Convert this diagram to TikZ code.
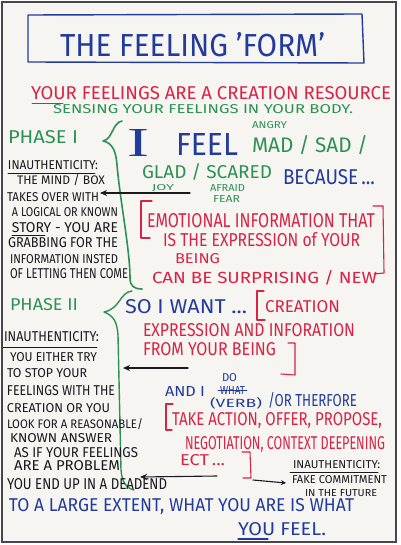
\documentclass[tikz,border=0pt]{standalone}
\usepackage{fontspec}
\setmainfont{Fira Sans}
\newfontfamily\serifI{Liberation Serif}
\usetikzlibrary{arrows.meta}
\definecolor{inkblue}{RGB}{35,60,155}
\definecolor{inkred}{RGB}{215,35,70}
\definecolor{inkgreen}{RGB}{45,145,85}
\definecolor{ink}{RGB}{25,25,30}
\definecolor{board}{RGB}{246,245,241}
\newcommand{\fitt}[3]{\resizebox{#1pt}{#2pt}{#3}}
\tikzset{
  hw/.style={inner sep=0pt, outer sep=0pt, anchor=base west},
  pen/.style={line width=1.1pt, line cap=round, line join=round},
  arr/.style={pen, ink, -{Stealth[length=7pt,width=6pt]}},
}
\begin{document}
\begin{tikzpicture}[x=1pt,y=-1pt]
\useasboundingbox (0,0) rectangle (400,545);
\fill[white] (0,0) rectangle (400,545);
\fill[board] (2,2) rectangle (396,542);
\draw[ink!80, line width=1.2pt] (2,2) rectangle (396,542);

% title
\draw[pen, inkblue, line width=1.4pt] (28,15) -- (362,14) -- (364,63) -- (28,62) -- cycle;
\node[hw, inkblue] (title) at (60,57) {\fitt{265}{24}{THE FEELING 'FORM'}};

\node[hw, inkred] (res) at (31,100) {\fitt{360}{13}{YOUR FEELINGS ARE A CREATION RESOURCE}};
\draw[pen, inkred, line width=0.9pt] (32,103) -- (63,103);
\node[hw, inkgreen] (sens) at (53,114) {\fitt{300}{9}{SENSING YOUR FEELINGS IN YOUR BODY.}};

% phase I
\node[hw, inkgreen] (p1) at (8,144) {\fitt{70}{13}{PHASE I}};
\draw[pen, inkgreen, line width=1.6pt] (122,121) .. controls (112,123) and (113,139) .. (103,141)
  .. controls (113,143) and (116,152) .. (117,165) .. controls (120,200) and (130,250) .. (130,278)
  .. controls (130,286) and (134,289) .. (142,289);

% left column I
\begin{scope}[ink]
\node[hw] (l1) at (8,170) {\fitt{90}{9}{INAUTHENTICITY:}};
\draw[pen, line width=0.8pt] (8,173) -- (95,173);
\node[hw] (l2) at (17,185) {\fitt{88}{10}{THE MIND / BOX}};
\node[hw] (l3) at (7,201) {\fitt{92}{9}{TAKES OVER WITH}};
\node[hw] (l4) at (12,216) {\fitt{106}{9}{A LOGICAL OR KNOWN}};
\node[hw] (l5) at (12,232) {\fitt{106}{10}{STORY - YOU ARE}};
\draw[pen, line width=0.8pt] (12,235) -- (45,235);
\node[hw] (l6) at (8,247) {\fitt{110}{10}{GRABBING FOR THE}};
\node[hw] (l7) at (10,263) {\fitt{108}{9}{INFORMATION INSTED}};
\node[hw] (l8) at (10,278) {\fitt{118}{10}{OF LETTING THEN COME}};
\end{scope}

% I feel
\node[hw, inkblue] (i) at (127,157) {\fitt{22}{27}{\serifI I}};
\node[hw, inkblue] (feel) at (176,156) {\fitt{62}{22}{FEEL}};
\node[hw, inkgreen] (angry) at (252,129) {\fitt{35}{7}{ANGRY}};
\node[hw, inkgreen] (mad) at (252,153) {\fitt{116}{17}{MAD / SAD /}};
\node[hw, inkgreen] (glad) at (142,179) {\fitt{130}{15}{GLAD / SCARED}};
\node[hw, inkgreen] (joy) at (152,190) {\fitt{22}{6}{JOY}};
\node[hw, inkgreen] (afraid) at (210,192) {\fitt{35}{7}{AFRAID}};
\node[hw, inkgreen] (fear) at (213,202) {\fitt{27}{7}{FEAR}};
\node[hw, inkblue] (because) at (283,185) {\fitt{92}{15}{BECAUSE\,...}};

\coordinate (a1s) at (190,193);
\coordinate (a1e) at (100,193);
\draw[arr] (a1s) -- (a1e);

% emotional information
\draw[pen, inkred] (152,201) -- (141,201) -- (141,238) -- (150,238);
\draw[pen, inkred] (373,206) -- (383,206) -- (384,273) -- (374,274);
\begin{scope}[inkred]
\node[hw] (e1) at (147,227) {\fitt{228}{14}{EMOTIONAL INFORMATION THAT}};
\node[hw] (e2) at (163,246) {\fitt{197}{14}{IS THE EXPRESSION of YOUR}};
\node[hw] (e3) at (175,263) {\fitt{45}{10}{BEING}};
\node[hw] (e4) at (152,283) {\fitt{225}{13}{CAN BE SURPRISING / NEW}};
\end{scope}

% phase II
\node[hw, inkgreen] (p2) at (10,310) {\fitt{68}{12}{PHASE II}};
\draw[pen, inkgreen, line width=1.4pt] (132,291) .. controls (120,292) and (120,309) .. (104,312)
  .. controls (114,316) and (117,322) .. (118,335) -- (121,470)
  .. controls (122,482) and (126,488) .. (134,490);

\begin{scope}[ink]
\node[hw] (m1) at (4,341) {\fitt{95}{10}{INAUTHENTICITY:}};
\draw[pen, line width=0.8pt] (3,347) -- (97,347);
\node[hw] (m2) at (10,361) {\fitt{87}{9}{YOU EITHER TRY}};
\node[hw] (m3) at (7,377) {\fitt{80}{9}{TO STOP YOUR}};
\node[hw] (m4) at (7,395) {\fitt{108}{10}{FEELINGS WITH THE}};
\node[hw] (m5) at (7,412) {\fitt{103}{9}{CREATION OR YOU}};
\node[hw] (m6) at (7,428) {\fitt{136}{10}{LOOK FOR A REASONABLE/}};
\node[hw] (m7) at (10,442) {\fitt{102}{9}{KNOWN ANSWER}};
\node[hw] (m8) at (14,457) {\fitt{124}{10}{AS IF YOUR FEELINGS}};
\node[hw] (m9) at (14,470) {\fitt{106}{10}{ARE A PROBLEM}};
\node[hw] (m10) at (7,489) {\fitt{160}{11}{YOU END UP IN A DEADEND}};
\end{scope}

\node[hw, inkblue] (want) at (125,313) {\fitt{122}{14}{SO I WANT ...}};
\draw[pen, inkred] (264,291) -- (257,291) -- (257,320) -- (265,320);
\draw[pen, inkred] (288,343) -- (295,343) -- (295,375) -- (281,374);
\begin{scope}[inkred]
\node[hw] (c1) at (265,312) {\fitt{75}{12}{CREATION}};
\node[hw] (c2) at (143,336) {\fitt{212}{13}{EXPRESSION AND INFORATION}};
\node[hw] (c3) at (143,355) {\fitt{133}{13}{FROM YOUR BEING}};
\end{scope}

\coordinate (a2s) at (188,368);
\coordinate (a2e) at (123,368);
\draw[arr] (a2s) -- (a2e);

% and I do
\begin{scope}[inkblue]
\node[hw] (do) at (222,381) {\fitt{15}{8}{DO}};
\node[hw] (andi) at (165,396) {\fitt{40}{10}{AND I}};
\node[hw] (what) at (220,394) {\fitt{25}{8}{WHAT}};
\draw[pen, line width=0.8pt] (218,390) -- (247,390);
\node[hw] (verb) at (210,407) {\fitt{52}{10}{(VERB)}};
\node[hw] (ther) at (268,406) {\fitt{89}{14}{/OR THERFORE}};
\end{scope}

\draw[pen, inkred] (173,404) -- (166,404) -- (166,430) -- (172,430);
\draw[pen, inkred] (242,452) -- (250,452) -- (251,478) -- (243,478);
\begin{scope}[inkred]
\node[hw] (t1) at (172,425) {\fitt{210}{13}{TAKE ACTION, OFFER, PROPOSE,}};
\node[hw] (t2) at (185,449) {\fitt{200}{13}{NEGOTIATION, CONTEXT DEEPENING}};
\node[hw] (t3) at (180,465) {\fitt{45}{11}{ECT\,...}};
\end{scope}

\coordinate (a3s) at (217,476);
\coordinate (a3e) at (140,477);
\draw[arr] (a3s) -- (a3e);
\coordinate (a4s) at (253,480);
\coordinate (a4e) at (286,483);
\draw[arr, -{Stealth[length=5pt,width=5pt]}] (a4s) -- (a4e);

\begin{scope}[ink]
\node[hw] (f1) at (293,468) {\fitt{87}{8}{INAUTHENTICITY:}};
\draw[pen, line width=0.7pt] (290,472) -- (378,472);
\node[hw] (f2) at (292,483) {\fitt{95}{8}{FAKE COMMITMENT}};
\node[hw] (f3) at (305,496) {\fitt{72}{7}{IN THE FUTURE}};
\end{scope}

\node[hw, inkblue] (z1) at (9,511) {\fitt{345}{13}{TO A LARGE EXTENT, WHAT YOU ARE IS WHAT}};
\node[hw, inkblue] (z2) at (238,535) {\fitt{88}{13}{YOU FEEL.}};
\draw[pen, inkblue] (238,539) -- (268,539);
\end{tikzpicture}
\end{document}
